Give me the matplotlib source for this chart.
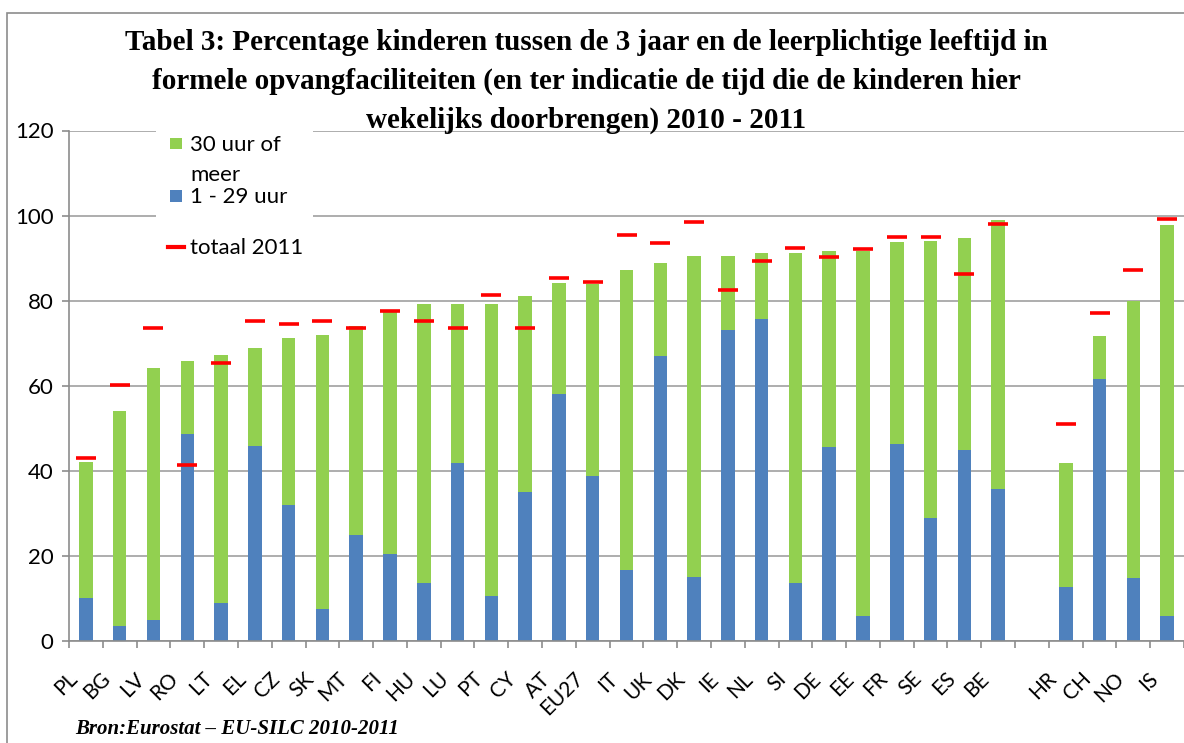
import matplotlib
matplotlib.use("Agg")
import matplotlib.pyplot as plt
import matplotlib.transforms as mtransforms
from matplotlib.patches import Rectangle
from matplotlib.lines import Line2D
import numpy as np

# landen (lege plek tussen BE en HR)
countries = ["PL", "BG", "LV", "RO", "LT", "EL", "CZ", "SK", "MT", "FI", "HU",
             "LU", "PT", "CY", "AT", "EU27", "IT", "UK", "DK", "IE", "NL", "SI",
             "DE", "EE", "FR", "SE", "ES", "BE", "HR", "CH", "NO", "IS"]
positions = list(range(28)) + [29, 30, 31, 32]

# 1 - 29 uur
blue_vals = [10, 3.5, 5, 48.7, 8.9, 45.9, 32, 7.5, 24.9, 20.5, 13.6,
             41.9, 10.6, 35.1, 58.1, 38.8, 16.7, 67.1, 15.1, 73.2, 75.8, 13.6,
             45.7, 5.9, 46.4, 28.9, 44.8, 35.7, 12.7, 61.7, 14.9, 5.9]
# totaal (blauw + groen)
total_vals = [42.1, 54.1, 64.2, 65.9, 67.3, 68.9, 71.3, 72, 74.1, 77.5, 79.1,
              79.1, 79.1, 81.2, 84.2, 84, 87.3, 88.9, 90.4, 90.4, 91.1, 91.3,
              91.6, 91.6, 93.8, 94, 94.7, 98.9, 41.8, 71.8, 80, 97.7]
# totaal 2011
red_vals = [43.1, 60.1, 73.6, 41.4, 65.3, 75.3, 74.4, 75.3, 73.6, 77.5, 75.3,
            73.6, 81.4, 73.6, 85.3, 84.5, 95.4, 93.5, 98.4, 82.4, 89.3, 92.3,
            90.2, 92.1, 95, 95, 86.3, 98, 51.1, 77.1, 87.2, 99.3]

green_vals = [t - b for t, b in zip(total_vals, blue_vals)]

BLUE = "#4F81BD"
GREEN = "#92D050"
RED = "#FF0000"
GRAY = "#8C8C8C"
W, H = 1184, 743

def fx(px):
    return px / W

def fy(py):
    return 1 - py / H

plt.rcParams["font.family"] = ["Lato", "DejaVu Sans"]

fig = plt.figure(figsize=(W / 100, H / 100), dpi=100)
ax = fig.add_axes([fx(69), fy(641), fx(W) - fx(69), fy(130.5) - fy(641)])

ax.bar(positions, blue_vals, width=0.4, color=BLUE, zorder=2)
ax.bar(positions, green_vals, width=0.4, bottom=blue_vals, color=GREEN, zorder=2)
ax.plot(positions, red_vals, ls="none", marker="_", markersize=14.5,
        markeredgewidth=2.6, color=RED, zorder=3)

ax.set_xlim(-0.5, 32.5)
ax.set_ylim(0, 120)
ax.set_yticks(range(0, 121, 20))
ax.yaxis.grid(True, color="#A0A0A0", lw=1.2, zorder=0)
ax.set_axisbelow(True)

for s in ["top", "right"]:
    ax.spines[s].set_visible(False)
for s in ["left", "bottom"]:
    ax.spines[s].set_color(GRAY)
    ax.spines[s].set_linewidth(1.2)

ax.set_xticks(positions)
ax.set_xticklabels(countries)
ax.set_xticks(np.arange(-0.5, 33, 1), minor=True)
ax.tick_params(axis="x", which="major", length=0, pad=25, labelsize=15)
ax.tick_params(axis="x", which="minor", length=5, color=GRAY, width=1.2)
ax.tick_params(axis="y", length=5, color=GRAY, width=1.2, labelsize=16, pad=6)

offset = mtransforms.ScaledTranslation(-0.12, 0, fig.dpi_scale_trans)
for lab in ax.get_xticklabels():
    lab.set_rotation(45)
    lab.set_ha("right")
    lab.set_va("center")
    lab.set_rotation_mode("anchor")
    lab.set_transform(lab.get_transform() + offset)

# legenda
fig.add_artist(Rectangle((fx(156), fy(270)), fx(313) - fx(156), fy(124) - fy(270),
                         transform=fig.transFigure, facecolor="white",
                         edgecolor="none", zorder=5))
fig.add_artist(Rectangle((fx(169.5), fy(149)), 12 / W, 11 / H,
                         transform=fig.transFigure, facecolor=GREEN,
                         edgecolor="none", zorder=6))
fig.add_artist(Rectangle((fx(169.5), fy(202)), 12 / W, 12 / H,
                         transform=fig.transFigure, facecolor=BLUE,
                         edgecolor="none", zorder=6))
fig.add_artist(Line2D([fx(168), fx(184)], [fy(247), fy(247)],
                      transform=fig.transFigure, color=RED, lw=3, zorder=6))
leg_kw = dict(fontsize=16, va="center", ha="left", zorder=7)
fig.text(fx(190), fy(145), "30 uur of", **leg_kw)
fig.text(fx(190), fy(175), "meer", **leg_kw)
fig.text(fx(190), fy(197), "1 - 29 uur", **leg_kw)
fig.text(fx(190), fy(248), "totaal 2011", **leg_kw)

# titel
title_lines = ["Tabel 3: Percentage kinderen tussen de 3 jaar en de leerplichtige leeftijd in",
               "formele opvangfaciliteiten (en ter indicatie de tijd die de kinderen hier",
               "wekelijks doorbrengen) 2010 - 2011"]
for line, base in zip(title_lines, [50, 89, 128]):
    fig.text(fx(586), fy(base), line, ha="center", va="baseline",
             family="Liberation Serif", fontweight="bold", fontsize=21, zorder=8)

fig.text(fx(75), fy(734), "Bron:Eurostat \u2013 EU-SILC 2010-2011", ha="left",
         va="baseline", family="Liberation Serif", fontweight="bold",
         style="italic", fontsize=15, zorder=8)

# kader
fig.add_artist(Rectangle((fx(7), fy(H + 5)), 1.2, fy(13) - fy(H + 5),
                         transform=fig.transFigure, facecolor="none",
                         edgecolor=GRAY, lw=1.2, zorder=9))

fig.savefig("out.png", dpi=100)
